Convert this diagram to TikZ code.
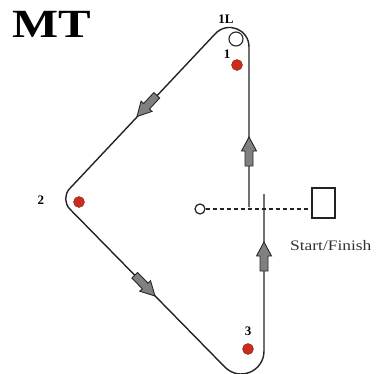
\documentclass[tikz,border=0pt]{standalone}
\usepackage{fontspec}
\setmainfont{Liberation Serif}
\usepackage{graphicx}
\definecolor{dotred}{RGB}{200,45,30}
\definecolor{trackc}{RGB}{35,35,35}
\begin{document}
\begin{tikzpicture}[x=1pt,y=-1pt,
  track/.style={draw=trackc, line width=1.4pt},
  reddot/.style={circle, fill=dotred, draw=dotred!70!black, line width=0.4pt, minimum size=11pt, inner sep=0pt},
  lbl/.style={font=\bfseries\fontsize{13}{13}\selectfont, inner sep=0pt},
  blockarrow/.pic={\draw[fill=black!50, draw=black!85, line width=0.9pt, line join=miter] (0,0) -- (-14,7.5) -- (-14,4) -- (-29,4) -- (-29,-4) -- (-14,-4) -- (-14,-7.5) -- cycle;}
]
\useasboundingbox (0,0) rectangle (378,373);
% track
\coordinate (uend) at (249,207);
\coordinate (ttop1) at (249,47);
\coordinate (ttop2) at (215,34);
\coordinate (tl1) at (69.5,188.8);
\coordinate (tl2) at (69.8,209);
\coordinate (tb1) at (224.8,367);
\coordinate (tb2) at (264,351);
\coordinate (lend) at (264,194);
\draw[track] (uend) -- (ttop1) .. controls (249,29) and (227.2,20.7) .. (ttop2) -- (tl1) .. controls (64.3,194.4) and (64.4,203.5) .. (tl2) -- (tb1) .. controls (239.3,381.8) and (264,371.5) .. (tb2) -- (lend);
% arrows
\pic[rotate=90] at (249,137) {blockarrow};
\pic[rotate=90] at (264,242) {blockarrow};
\pic[rotate=227] at (137,116.5) {blockarrow};
\pic[rotate=-45.6] at (155,296) {blockarrow};
% cones / markers
\node[circle, draw=trackc, line width=1.1pt, minimum size=14pt, inner sep=0pt] (c1L) at (236,39) {};
\node[reddot] (d1) at (237,65) {};
\node[reddot] (d2) at (79,202) {};
\node[reddot] (d3) at (248,349) {};
% labels
\node[lbl] (l1L) at (226,19) {1L};
\node[lbl] (l1) at (227,54) {1};
\node[lbl] (l2) at (41,200) {2};
\node[lbl] (l3) at (248,331) {3};
% start/finish
\node[circle, draw=trackc, minimum size=10pt, inner sep=0pt, line width=1.2pt] (sc) at (200,209) {};
\node[draw=trackc, line width=1.3pt, minimum width=23pt, minimum height=30pt, inner sep=0pt] (box) at (323.5,203) {};
\draw[trackc, line width=1.8pt, dash pattern=on 4pt off 3pt] (sc) -- (box.west |- sc);
\node[anchor=base west, inner sep=0pt, text=black!80, font=\fontsize{14.5}{14.5}\selectfont] (sf) at (290,250) {\scalebox{1.2}[1]{Start/Finish}};
% title
\node[anchor=base west, inner sep=0pt, font=\bfseries\fontsize{40}{40}\selectfont] (mt) at (12,37) {\scalebox{1.22}[1]{MT}};
\end{tikzpicture}
\end{document}
